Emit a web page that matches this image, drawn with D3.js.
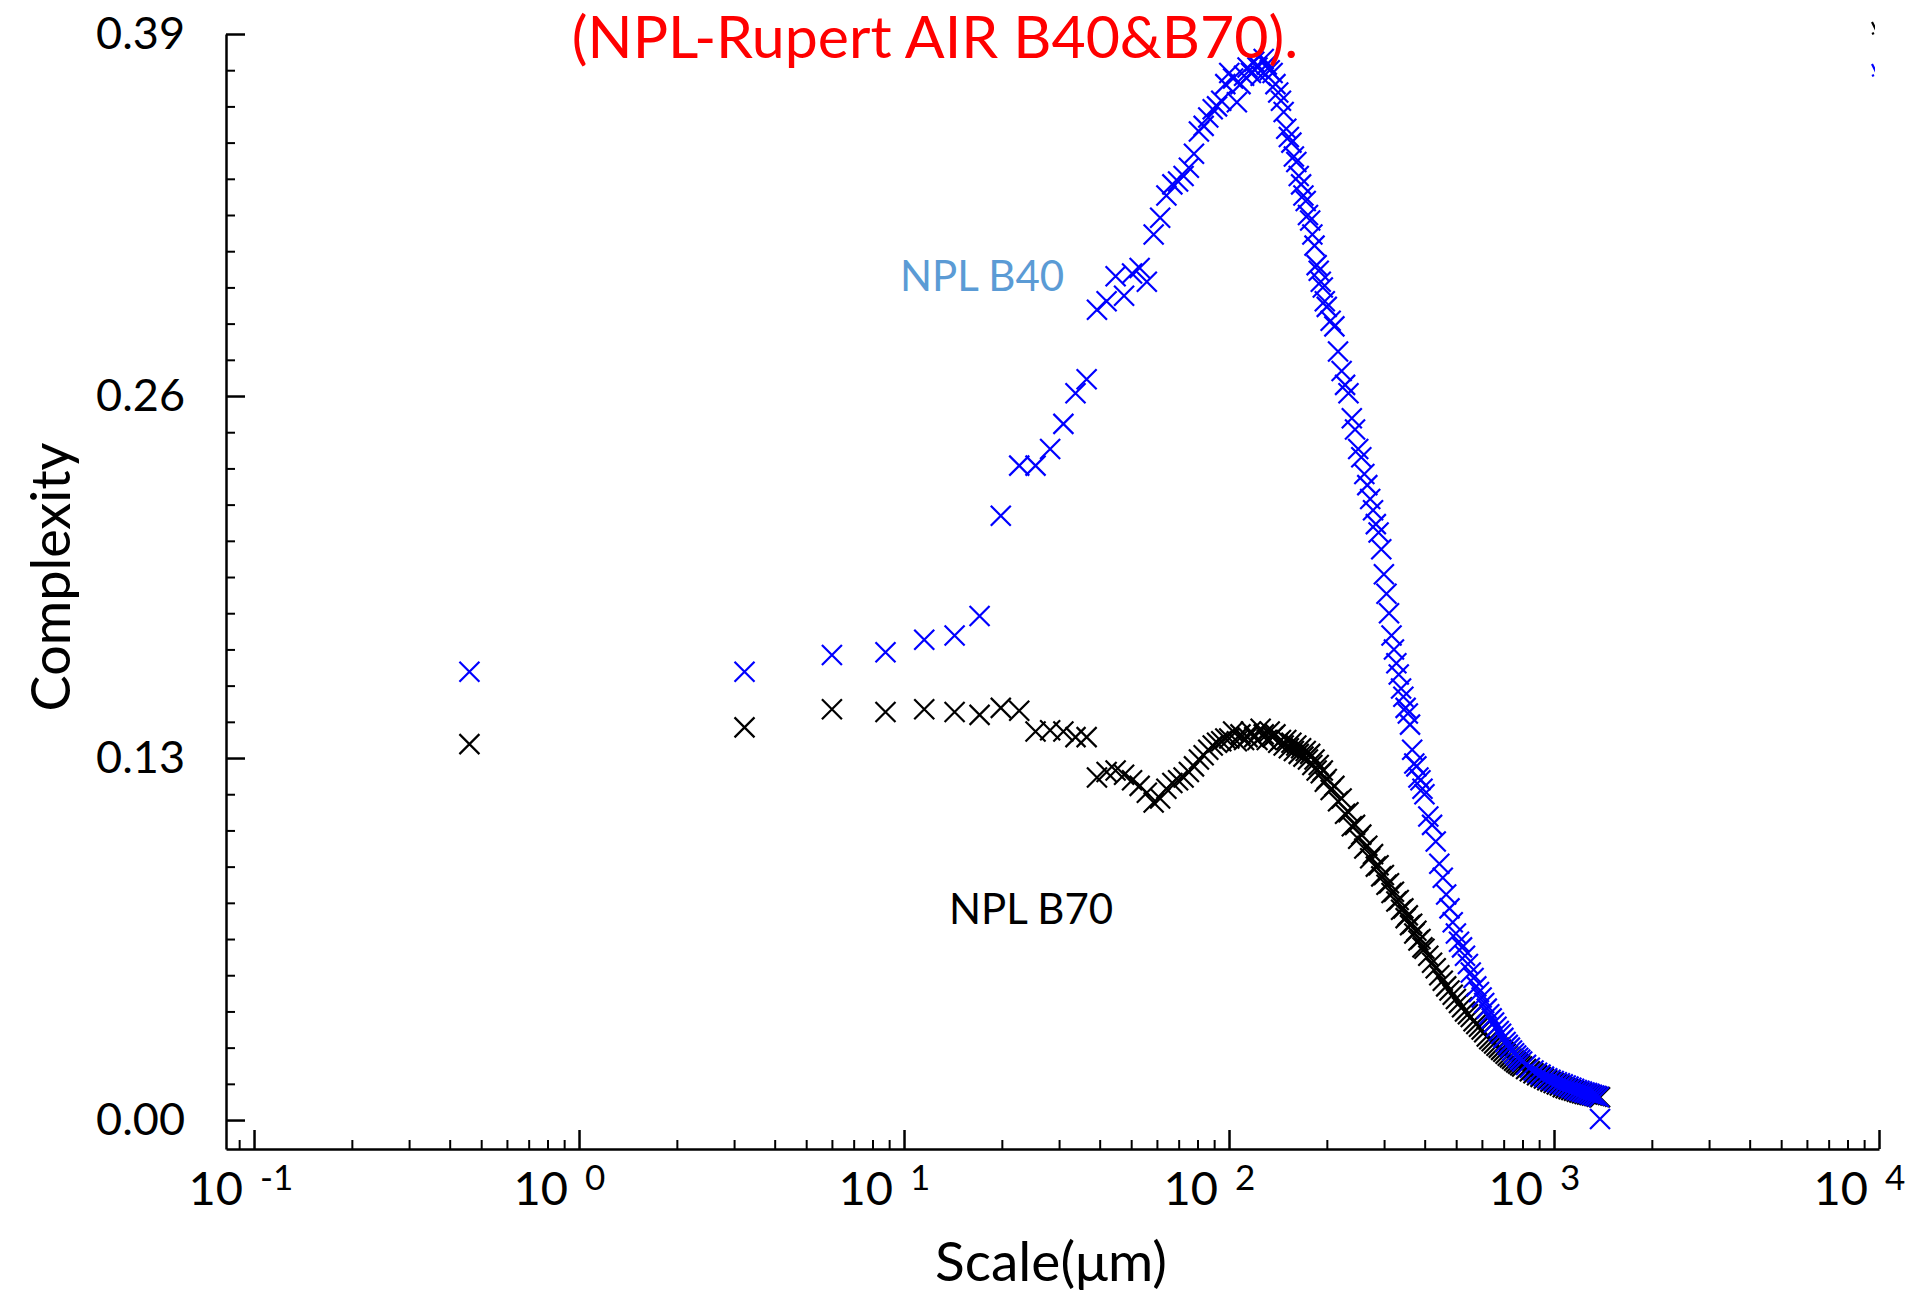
<!DOCTYPE html>
<html>
<head>
<meta charset="utf-8">
<script src="https://cdn.jsdelivr.net/npm/d3@7"></script>
<style>
  html, body { margin: 0; padding: 0; background: #fff; }
  svg { display: block; font-family: Lato, "Open Sans", sans-serif; }
</style>
</head>
<body>
<svg id="chart" width="1917" height="1294"></svg>
<script>
// Analysis scales (µm) shared by both surfaces
const scales = [
  0.46, 3.23, 6.00, 8.77, 11.54, 14.31, 17.08, 19.85, 22.62, 25.39, 28.16, 30.93,
  33.70, 36.47, 39.24, 42.01, 44.78, 47.55, 50.32, 53.09, 55.86, 58.63, 61.40, 64.17,
  66.94, 69.71, 72.48, 75.25, 78.02, 80.79, 83.56, 86.33, 89.10, 91.87, 94.64, 97.41,
  100.18, 102.95, 105.72, 108.49, 111.26, 114.03, 116.80, 119.57, 122.34, 125.11, 127.88, 130.65,
  133.42, 136.19, 138.96, 141.73, 144.50, 147.27, 150.04, 152.81, 155.58, 158.35, 161.12, 163.89,
  166.66, 169.43, 172.20, 174.97, 177.74, 180.51, 183.28, 186.05, 188.82, 191.59, 194.36, 197.13,
  199.90, 205.44, 210.98, 216.52, 222.06, 227.60, 233.14, 238.68, 244.22, 249.76, 255.30, 260.84,
  266.38, 271.92, 277.46, 283.00, 288.54, 294.08, 299.62, 305.16, 310.70, 316.24, 321.78, 327.32,
  332.86, 338.40, 343.94, 349.48, 355.02, 360.56, 366.10, 371.64, 377.18, 382.72, 388.26, 393.80,
  399.34, 410.42, 421.50, 432.58, 443.66, 454.74, 465.82, 476.90, 487.98, 499.06, 510.14, 521.22,
  532.30, 543.38, 554.46, 565.54, 576.62, 587.70, 598.78, 609.86, 620.94, 632.02, 643.10, 654.18,
  665.26, 676.34, 687.42, 698.50, 709.58, 720.66, 731.74, 742.82, 753.90, 764.98, 776.06, 787.14,
  798.22, 820.38, 842.54, 864.70, 886.86, 909.02, 931.18, 953.34, 975.50, 997.66, 1019.82, 1041.98,
  1064.14, 1086.30, 1108.46, 1130.62, 1152.78, 1174.94, 1197.10, 1219.26, 1241.42, 1263.58, 1285.74, 1307.90,
  1330.06, 1352.22, 1374.38, 1385.46
];

// Complexity of NPL B40
const complexityB40 = [
  0.161, 0.161, 0.167, 0.168, 0.1725, 0.174, 0.181, 0.217, 0.235, 0.235, 0.241, 0.250,
  0.261, 0.266, 0.291, 0.294, 0.303, 0.296, 0.304, 0.306, 0.301, 0.318, 0.324, 0.332,
  0.336, 0.337, 0.339, 0.342, 0.347, 0.355, 0.357, 0.360, 0.363, 0.364, 0.366, 0.372,
  0.376, 0.374, 0.3655, 0.372, 0.375, 0.378, 0.376, 0.380, 0.378, 0.375, 0.381, 0.379,
  0.377, 0.376, 0.372, 0.369, 0.366, 0.362, 0.356, 0.353, 0.351, 0.346, 0.344, 0.339,
  0.336, 0.332, 0.330, 0.325, 0.323, 0.318, 0.314, 0.307, 0.305, 0.301, 0.299, 0.294,
  0.292, 0.287, 0.285, 0.276, 0.269, 0.264, 0.261, 0.252, 0.248, 0.241, 0.238, 0.232,
  0.228, 0.223, 0.219, 0.214, 0.211, 0.205, 0.196, 0.189, 0.182, 0.174, 0.169, 0.164,
  0.160, 0.155, 0.152, 0.148, 0.146, 0.142, 0.133, 0.128, 0.127, 0.123, 0.122, 0.119,
  0.117, 0.109, 0.106, 0.100, 0.092, 0.087, 0.081, 0.076, 0.071, 0.067, 0.064, 0.062,
  0.059, 0.056, 0.053, 0.051, 0.048, 0.046, 0.044, 0.042, 0.040, 0.038, 0.0365, 0.035,
  0.0335, 0.032, 0.031, 0.0295, 0.028, 0.027, 0.026, 0.025, 0.024, 0.0232, 0.0224, 0.0217,
  0.021, 0.0198, 0.0188, 0.0178, 0.017, 0.0163, 0.0156, 0.015, 0.0145, 0.014, 0.0136, 0.0132,
  0.0128, 0.0124, 0.012, 0.0116, 0.0112, 0.0108, 0.0105, 0.0102, 0.0099, 0.0097, 0.0094, 0.0091,
  0.0088, 0.0086, 0.0083, 0.0004
];

// Complexity of NPL B70
const complexityB70 = [
  0.135, 0.141, 0.1475, 0.1465, 0.1475, 0.1465, 0.1455, 0.148, 0.147, 0.1395, 0.140, 0.1395,
  0.1375, 0.1375, 0.123, 0.125, 0.1255, 0.124, 0.122, 0.120, 0.1175, 0.114, 0.1155, 0.119,
  0.121, 0.122, 0.123, 0.125, 0.127, 0.1295, 0.131, 0.133, 0.1345, 0.1355, 0.136, 0.137,
  0.137, 0.1395, 0.136, 0.1385, 0.1365, 0.1375, 0.1395, 0.1375, 0.1365, 0.1405, 0.1385, 0.1365,
  0.1395, 0.1375, 0.1385, 0.1355, 0.1365, 0.1345, 0.1365, 0.1335, 0.1355, 0.1325, 0.1345, 0.1315,
  0.1335, 0.1305, 0.1325, 0.1295, 0.1315, 0.1275, 0.1295, 0.1255, 0.1275, 0.1245, 0.1255, 0.1215,
  0.1225, 0.1185, 0.1200, 0.1145, 0.1155, 0.1100, 0.1105, 0.1055, 0.1060, 0.1010, 0.1025, 0.0975,
  0.0985, 0.0940, 0.0955, 0.0910, 0.0915, 0.0875, 0.0880, 0.0845, 0.0850, 0.0815, 0.0820, 0.0785,
  0.0790, 0.0755, 0.0760, 0.0725, 0.0735, 0.0700, 0.0705, 0.0670, 0.0680, 0.0645, 0.0650, 0.0620,
  0.0615, 0.059, 0.0565, 0.0545, 0.052, 0.050, 0.048, 0.0465, 0.045, 0.0435, 0.042, 0.0405,
  0.039, 0.038, 0.037, 0.0355, 0.0345, 0.0335, 0.0325, 0.0315, 0.030, 0.029, 0.0283, 0.0275,
  0.0267, 0.026, 0.0252, 0.0245, 0.0238, 0.0231, 0.0225, 0.0219, 0.0213, 0.0207, 0.0202, 0.0197,
  0.0192, 0.0183, 0.0175, 0.0168, 0.0161, 0.0155, 0.0149, 0.0143, 0.0138, 0.0133, 0.0128, 0.0124,
  0.0118, 0.0114, 0.0111, 0.0108, 0.0105, 0.0102, 0.0099, 0.0096, 0.0094, 0.0092, 0.0090, 0.0088,
  0.0086, 0.0084, 0.0083, 0.0082
];

// Axis ticks
const xMajorTicks = [0.1, 1, 10, 100, 1000, 10000];
const xTickExponents = ["-1", "0", "1", "2", "3", "4"];
const yMajorTicks = [0, 0.13, 0.26, 0.39];
const yTickLabels = ["0.00", "0.13", "0.26", "0.39"];

const chartTitle = "(NPL-Rupert AIR B40&B70).";
const seriesLabels = ["NPL B40", "NPL B70"];
const xTitle = "Scale(\u03bcm)";
const yTitle = "Complexity";

const svg = d3.select("#chart");

const plot = { left: 226, right: 1879, top: 34, bottom: 1149 };

const x = d3.scaleLog()
  .domain([0.08199, 10000])
  .range([plot.left, plot.right]);

const y = d3.scaleLinear()
  .domain([-0.0104, 0.39])
  .range([plot.bottom, plot.top]);

// Minor ticks
const xMinor = [];
for (let e = -2; e < 4; e++) {
  for (let k = 2; k <= 9; k++) {
    const v = k * Math.pow(10, e);
    if (v >= x.domain()[0] && v <= 10000) xMinor.push(v);
  }
}
const yMinor = d3.range(0, 40).map(i => +(i * 0.013).toFixed(3))
  .filter(v => v <= 0.39 && !yMajorTicks.some(m => Math.abs(m - v) < 1e-9));

const axisColor = "#000";
const axisWidth = 2.5;

// X axis
const gx = svg.append("g").attr("transform", `translate(0,${plot.bottom})`);
gx.call(d3.axisBottom(x).tickValues(xMajorTicks).tickSizeInner(-19).tickSizeOuter(0).tickFormat(""));
gx.call(g => g.selectAll(".tick line").attr("stroke", axisColor).attr("stroke-width", axisWidth));
gx.select(".domain").attr("stroke", axisColor).attr("stroke-width", axisWidth);

const gxMinor = svg.append("g").attr("transform", `translate(0,${plot.bottom})`);
gxMinor.call(d3.axisBottom(x).tickValues(xMinor).tickSizeInner(-9).tickSizeOuter(0).tickFormat(""));
gxMinor.select(".domain").remove();
gxMinor.selectAll(".tick line").attr("stroke", axisColor).attr("stroke-width", 2);

// X tick labels: 10 with raised exponent
const xLabels = svg.append("g").attr("fill", "#000");
xMajorTicks.forEach((v, i) => {
  xLabels.append("text")
    .attr("x", x(v) - 11)
    .attr("y", 1205)
    .attr("text-anchor", "end")
    .attr("font-size", 47)
    .text("10");
  xLabels.append("text")
    .attr("x", x(v) + 6)
    .attr("y", 1190)
    .attr("text-anchor", "start")
    .attr("font-size", 35)
    .text(xTickExponents[i]);
});

// Y axis
const gy = svg.append("g").attr("transform", `translate(${plot.left},0)`);
gy.call(d3.axisLeft(y).tickValues(yMajorTicks).tickSizeInner(-19).tickSizeOuter(0)
  .tickPadding(41).tickFormat((d, i) => yTickLabels[i]));
gy.select(".domain").attr("stroke", axisColor).attr("stroke-width", axisWidth);
gy.selectAll(".tick line").attr("stroke", axisColor).attr("stroke-width", axisWidth);
gy.selectAll(".tick text").attr("font-size", 45).attr("font-family", "Lato").attr("fill", "#000");

const gyMinor = svg.append("g").attr("transform", `translate(${plot.left},0)`);
gyMinor.call(d3.axisLeft(y).tickValues(yMinor).tickSizeInner(-9).tickSizeOuter(0).tickFormat(""));
gyMinor.select(".domain").remove();
gyMinor.selectAll(".tick line").attr("stroke", axisColor).attr("stroke-width", 2);

// Axis titles
svg.append("text")
  .attr("x", 1051).attr("y", 1281)
  .attr("text-anchor", "middle")
  .attr("font-size", 55)
  .attr("fill", "#000")
  .text(xTitle);

svg.append("text")
  .attr("transform", "translate(70,577) rotate(-90)")
  .attr("text-anchor", "middle")
  .attr("font-size", 54)
  .attr("fill", "#000")
  .text(yTitle);

// Scatter markers
const cross = "M-10,-10L10,10M-10,10L10,-10";
function drawSeries(values, color) {
  svg.append("g")
    .selectAll("path")
    .data(scales.map((s, i) => [s, values[i]]))
    .join("path")
    .attr("transform", d => `translate(${x(d[0])},${y(d[1])})`)
    .attr("d", cross)
    .attr("fill", "none")
    .attr("stroke", color)
    .attr("stroke-width", 2.2);
}
drawSeries(complexityB70, "#000000");
drawSeries(complexityB40, "#0000ff");

// Series annotations
svg.append("text")
  .attr("x", 900).attr("y", 291)
  .attr("font-size", 42)
  .attr("fill", "#5b9bd5")
  .text(seriesLabels[0]);

svg.append("text")
  .attr("x", 949).attr("y", 924)
  .attr("font-size", 42)
  .attr("fill", "#000")
  .text(seriesLabels[1]);

// Title
svg.append("text")
  .attr("x", 935).attr("y", 58)
  .attr("text-anchor", "middle")
  .attr("font-size", 59)
  .attr("fill", "#ff0000")
  .text(chartTitle);

// Legend symbols, mostly cut off at the right margin
const legendClip = svg.append("defs").append("clipPath").attr("id", "legendClip");
legendClip.append("rect").attr("x", 1871).attr("y", 0).attr("width", 4).attr("height", 100);
const legend = svg.append("g").attr("clip-path", "url(#legendClip)");
[["#000000", 30], ["#0000ff", 72]].forEach(([c, cy]) => {
  legend.append("path")
    .attr("transform", `translate(1884,${cy})`)
    .attr("d", "M-12,-8L-8,0M-12,4L-10,3")
    .attr("fill", "none")
    .attr("stroke", c)
    .attr("stroke-width", 2.2);
});
</script>
</body>
</html>
